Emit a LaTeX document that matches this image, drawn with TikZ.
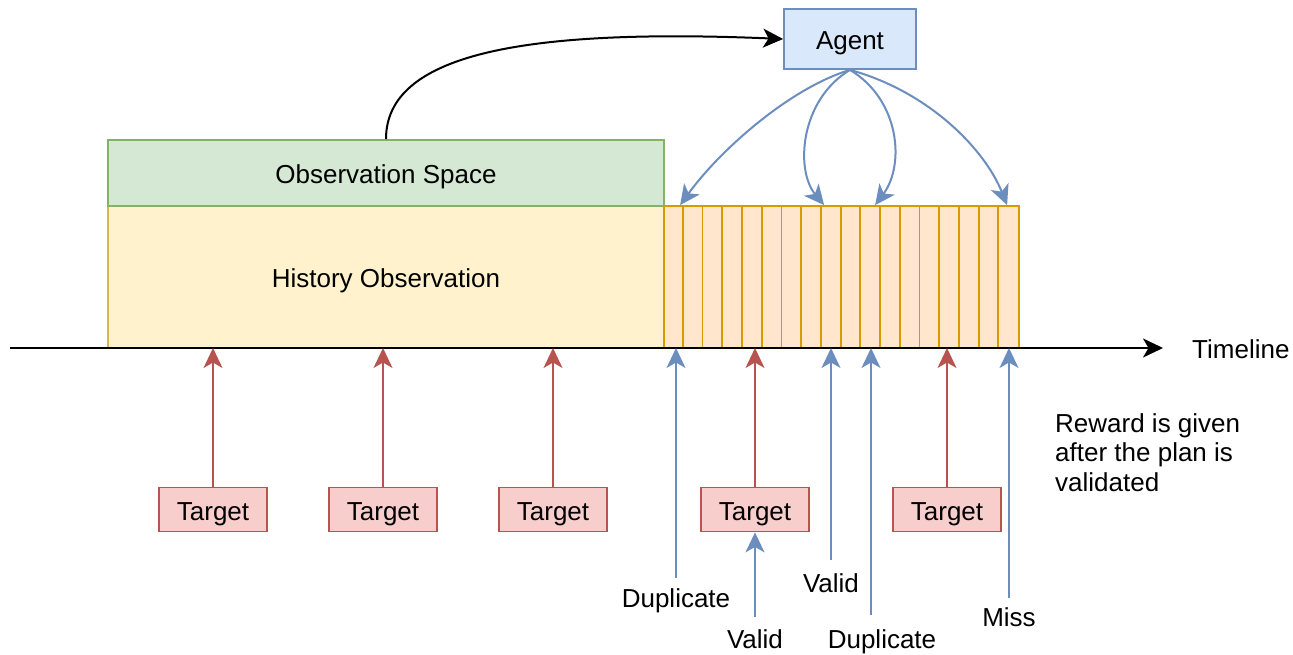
\documentclass[tikz,border=0pt]{standalone}
\usepackage{fontspec}
\setmainfont{Liberation Sans}
\usetikzlibrary{arrows.meta}
\definecolor{agentfill}{HTML}{DAE8FC}
\definecolor{agentline}{HTML}{6C8EBF}
\definecolor{obsfill}{HTML}{D5E8D4}
\definecolor{obsline}{HTML}{82B366}
\definecolor{histfill}{HTML}{FFF2CC}
\definecolor{histline}{HTML}{D6B656}
\definecolor{planfill}{HTML}{FFE6CC}
\definecolor{planline}{HTML}{D79B00}
\definecolor{tgtfill}{HTML}{F8CECC}
\definecolor{tgtline}{HTML}{B85450}
\begin{document}
\begin{tikzpicture}[x=1pt,y=-1pt,
  font=\fontsize{26}{30}\selectfont,
  box/.style={draw, line width=1.8pt, inner sep=0pt, align=center, text height=21pt, text depth=0pt},
  head/.style={-{Stealth[length=20pt,width=19pt,inset=5.5pt]}},
  blk/.style={head, draw=black, line width=2pt},
  bluearrow/.style={head, draw=agentline, line width=2pt},
  redarrow/.style={head, draw=tgtline, line width=2pt},
  target/.style={box, fill=tgtfill, draw=tgtline, minimum width=108pt, minimum height=44pt},
  lbl/.style={inner sep=0pt, anchor=base}]
\useasboundingbox (0,0) rectangle (1293,655);

% context and planned windows
\node[box, fill=histfill, draw=histline, minimum width=556pt, minimum height=142pt] (hist) at (386,277) {History Observation};
\node[box, fill=obsfill, draw=obsline, minimum width=556pt, minimum height=66pt] (obs) at (386,173) {Observation Space};
\node[box, fill=planfill, draw=planline, minimum width=355pt, minimum height=142pt] (plan) at (841.5,277) {};
\foreach \k in {1,...,17}
  \draw[planline, line width=1.8pt] ([xshift=\k*355pt/18]plan.north west) -- ([xshift=\k*355pt/18]plan.south west);

% agent
\node[box, fill=agentfill, draw=agentline, minimum width=132pt, minimum height=60pt] (agent) at (850,39) {Agent};

% timeline
\coordinate (tl0) at (10,348);
\coordinate (tl1) at (1163,348);
\draw[blk, line width=2.2pt] (tl0) -- (tl1);
\node[lbl, anchor=base west] (tlabel) at (1192,358.3) {Timeline};

% observation feeds the agent
\draw[blk] (obs.north) .. controls (386,55) and (520,28) .. (agent.west);

% agent places actions in the plan window
\draw[bluearrow] (agent.south) .. controls (790,88) and (720,150) .. ([xshift=17pt]plan.north west);
\draw[bluearrow] (agent.south) .. controls (800,100) and (795,170) .. ([xshift=161pt]plan.north west);
\draw[bluearrow] (agent.south) .. controls (900,100) and (905,165) .. ([xshift=212pt]plan.north west);
\draw[bluearrow] (agent.south) .. controls (930,92) and (985,150) .. ([xshift=344pt]plan.north west);

% targets
\node[target] (t1) at (213,509.5) {Target};
\node[target] (t2) at (383,509.5) {Target};
\node[target] (t3) at (553,509.5) {Target};
\node[target] (t4) at (755,509.5) {Target};
\node[target] (t5) at (947,509.5) {Target};
\foreach \t in {t1,t2,t3,t4,t5}
  \draw[redarrow] (\t.north) -- (\t.north |- tl0);

% outcomes of the plan
\node[lbl] (dup1) at (676,607.7) {Duplicate};
\node[lbl] (val1) at (755,648) {Valid};
\node[lbl] (val2) at (831,592.3) {Valid};
\node[lbl] (dup2) at (882,648) {Duplicate};
\node[lbl] (miss) at (1009,626.7) {Miss};
\draw[bluearrow] ([yshift=30pt]dup1.base) -- (dup1.base |- tl0);
\draw[bluearrow] ([yshift=31pt]val1.base) -- (t4.south);
\draw[bluearrow] ([yshift=32pt]val2.base) -- (val2.base |- tl0);
\draw[bluearrow] ([xshift=-11pt,yshift=33pt]dup2.base) -- ([xshift=-11pt]dup2.base |- tl0);
\draw[bluearrow] ([yshift=29pt]miss.base) -- (miss.base |- tl0);

% note
\node[inner sep=0pt, anchor=north west, align=left, font=\fontsize{26}{29.5}\selectfont] (note) at (1055,413) {Reward is given\\after the plan is\\validated};
\end{tikzpicture}
\end{document}
